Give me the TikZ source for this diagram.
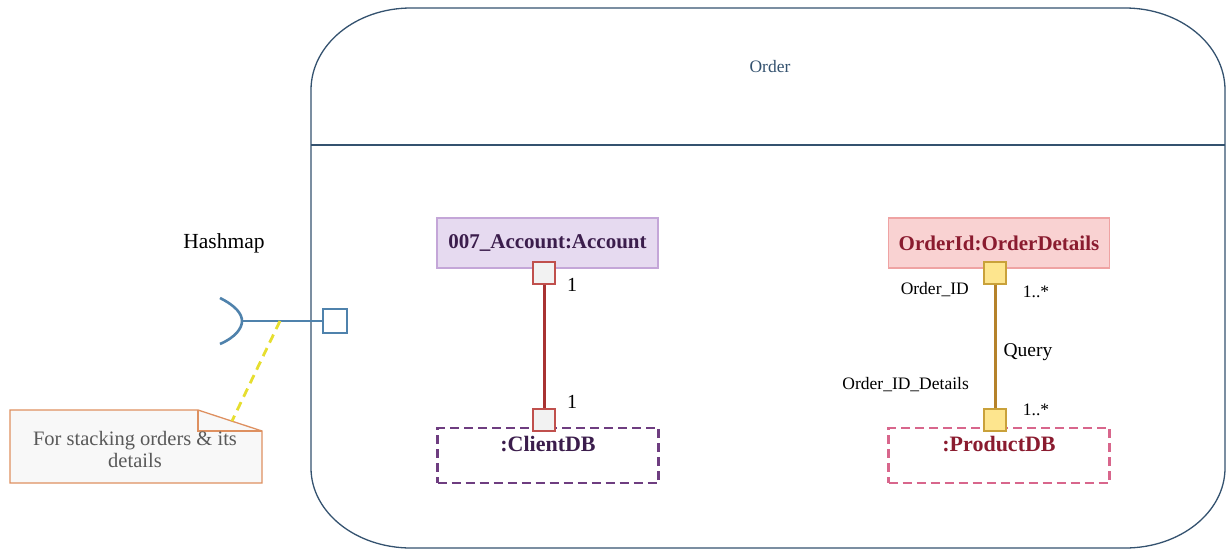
\documentclass[tikz,border=0pt]{standalone}
\usepackage{fontspec}
\setmainfont{Liberation Serif}
\usetikzlibrary{positioning}

\definecolor{framecol}{HTML}{34526F}
\definecolor{accfill}{HTML}{E6DAF0}
\definecolor{accdraw}{HTML}{C4A6D8}
\definecolor{acctext}{HTML}{3B1D4C}
\definecolor{clientdash}{HTML}{6E3D80}
\definecolor{odfill}{HTML}{F9D2D2}
\definecolor{oddraw}{HTML}{EFA3A3}
\definecolor{odtext}{HTML}{8A1B2F}
\definecolor{proddash}{HTML}{D8668C}
\definecolor{redline}{HTML}{A83232}
\definecolor{redport}{HTML}{C0504D}
\definecolor{portgray}{HTML}{F2F2F2}
\definecolor{yelfill}{HTML}{FDE58E}
\definecolor{yeldraw}{HTML}{C9A13A}
\definecolor{goldline}{HTML}{B5822A}
\definecolor{hashblue}{HTML}{4F82AC}
\definecolor{noteorange}{HTML}{DE9060}
\definecolor{notefill}{HTML}{F8F8F8}
\definecolor{notetext}{HTML}{595959}
\definecolor{yeldash}{HTML}{E6DE30}

\tikzset{
	frame/.style={draw=framecol, line width=1.3pt},
	objbox/.style={line width=1.3pt, minimum width=221pt, minimum height=50pt, inner sep=0pt,
		font=\fontsize{21}{24}\selectfont\bfseries},
	dbbox/.style={dashed, dash pattern=on 9pt off 5pt, line width=2.8pt,
		minimum width=221pt, minimum height=55pt, inner sep=0pt},
	dbtext/.style={font=\fontsize{22}{24}\selectfont\bfseries, inner sep=0pt},
	port/.style={line width=1.3pt, minimum size=22pt, inner sep=0pt},
	lbl/.style={font=\fontsize{17.5}{20}\selectfont, inner sep=0pt},
	hash/.style={draw=hashblue, line width=2.6pt},
}

\begin{document}
\begin{tikzpicture}[x=1pt,y=-1pt]
	\useasboundingbox (0,0) rectangle (1227,550);
	% composite structure frame
	\draw[frame] (311,90) arc[start angle=180, end angle=270, x radius=100, y radius=82]
		-- (1125,8) arc[start angle=270, end angle=360, x radius=100, y radius=82]
		-- (1225,468) arc[start angle=0, end angle=90, x radius=100, y radius=80]
		-- (411,548) arc[start angle=90, end angle=180, x radius=100, y radius=80]
		-- cycle;
	\draw[frame] (311,145) -- (1225,145);
	\node[lbl, text=framecol] (title) at (770,67) {Order};

	% account part
	\node[objbox, fill=accfill, draw=accdraw, text=acctext] (acc) at (547.5,243) {007\_Account:Account};
	\node[dbbox, draw=clientdash] (client) at (548,455.5) {};
	\node[dbtext, text=acctext, below=9pt of client.north] (clienttxt) {:ClientDB};
	\node[port, draw=redport, fill=portgray] (accport) at (544,273) {};
	\node[port, draw=redport, fill=portgray] (clientport) at (544,420) {};
	\draw[redline, line width=3pt] (accport) -- (clientport);
	\node[lbl, font=\fontsize{20}{22}\selectfont] (accmul) at (572,285) {1};
	\node[lbl, font=\fontsize{20}{22}\selectfont] (clientmul) at (572,402) {1};

	% order details part
	\node[objbox, fill=odfill, draw=oddraw, text=odtext] (od) at (999,243) {OrderId:OrderDetails};
	\node[dbbox, draw=proddash] (prod) at (999,455.5) {};
	\node[dbtext, text=odtext, below=9pt of prod.north] (prodtxt) {:ProductDB};
	\node[port, draw=yeldraw, fill=yelfill] (odport) at (995,273) {};
	\node[port, draw=yeldraw, fill=yelfill] (prodport) at (995,420) {};
	\draw[goldline, line width=3pt] (odport) -- (prodport);
	\node[lbl, anchor=east] (odrole) at (969,290) {Order\_ID};
	\node[lbl] (odmul) at (1036,292) {1..*};
	\node[lbl, font=\fontsize{19.5}{22}\selectfont] (query) at (1028,352) {Query};
	\node[lbl, anchor=east] (prodrole) at (969,385) {Order\_ID\_Details};
	\node[lbl] (prodmul) at (1036,410) {1..*};

	% hashmap port
	\node[font=\fontsize{21.5}{24}\selectfont, inner sep=0pt] (hashlbl) at (224,243) {Hashmap};
	\coordinate (sock) at (242,321);
	\draw[hash] (220,298) .. controls (236,306) and (242,314) .. (sock)
		.. controls (242,328) and (236,337) .. (220,344);
	\node[hash, minimum size=24pt, inner sep=0pt, fill=white] (hport) at (335,321) {};
	\draw[hash] (sock) -- (hport);

	% note
	\filldraw[draw=noteorange, fill=notefill, line width=1.3pt] (10,410) -- (198,410) -- (262,431)
		-- (262,483) -- (10,483) -- cycle;
	\draw[noteorange, line width=1.3pt] (198,410) -- (198,431) -- (262,431);
	\node[text=notetext, align=center, font=\fontsize{20.5}{22}\selectfont, inner sep=0pt] (note) at (135,449)
		{For stacking orders \& its\\details};
	\coordinate (tap) at (280,321);
	\coordinate (notetip) at (232,421);
	\draw[yeldash, line width=2.8pt, dash pattern=on 9pt off 6pt] (tap) -- (notetip);
\end{tikzpicture}
\end{document}
